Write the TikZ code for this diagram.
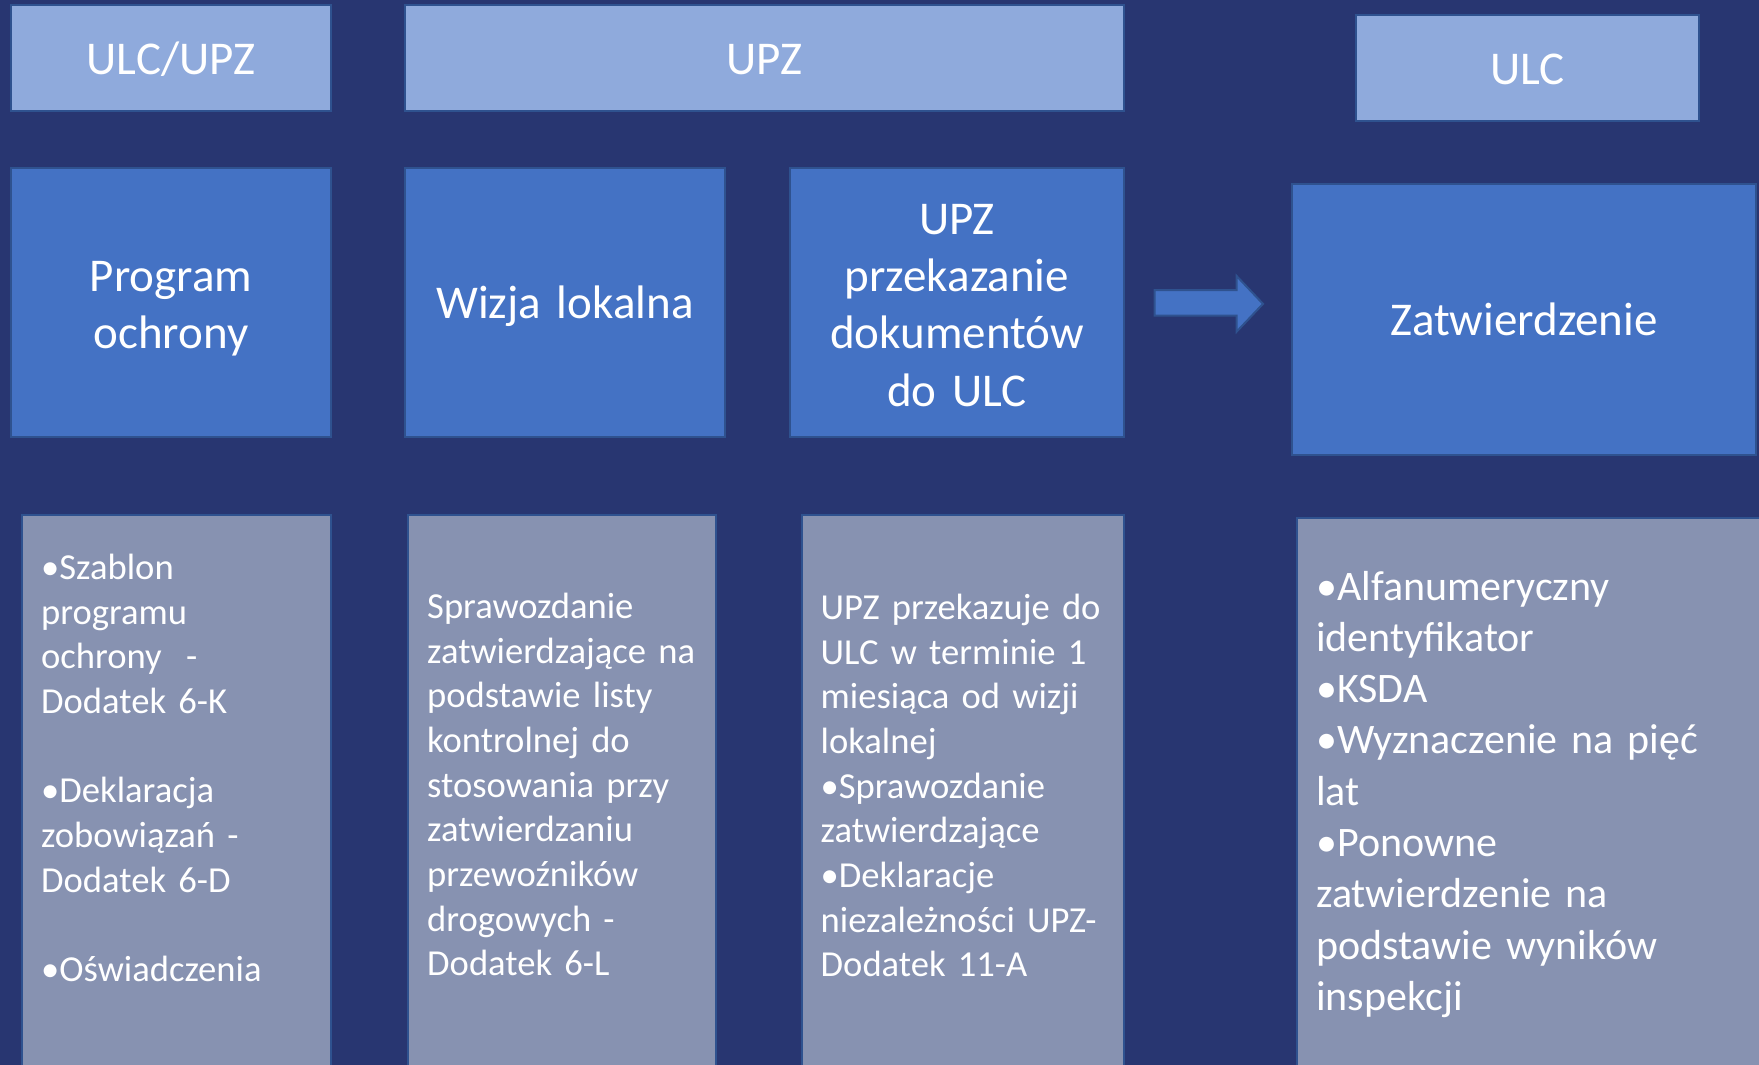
\documentclass[tikz,border=0pt]{standalone}
\usepackage{fontspec}
\setmainfont{Carlito}
\definecolor{bg}{HTML}{283671}
\definecolor{lightbox}{HTML}{8FAADC}
\definecolor{midbox}{HTML}{4472C4}
\definecolor{lowbox}{HTML}{8792B1}
\definecolor{edge}{HTML}{2F528F}
\tikzset{
  box/.style={draw=edge, line width=2.5pt, anchor=north west, inner sep=0pt, outer sep=0pt},
  hdrbox/.style={box, fill=lightbox, minimum height=106pt},
  stepbox/.style={box, fill=midbox},
  infobox/.style={box, fill=lowbox},
  bigtxt/.style={text=white, font=\fontsize{47}{57.4}\selectfont, anchor=base, align=center, text width=440pt, inner sep=0pt},
  smalltxt/.style={text=white, font=\fontsize{36.6}{44.7}\selectfont, anchor=base west, align=left, text width=420pt, inner sep=0pt},
  midtxt/.style={text=white, font=\fontsize{42}{51.3}\selectfont, anchor=base west, align=left, text width=440pt, inner sep=0pt},
}
\begin{document}
\begin{tikzpicture}[x=1pt,y=-1pt]
\useasboundingbox (0,0) rectangle (1759,1065);
\clip (0,0) rectangle (1759,1065);
\fill[bg] (0,0) rectangle (1759,1065);

% header row
\node[hdrbox, minimum width=320pt] (h1) at (11,5) {};
\node[hdrbox, minimum width=719pt] (h2) at (405,5) {};
\node[hdrbox, minimum width=343pt] (h3) at (1356,15) {};
\node[bigtxt] (h1t) at (171,74.3) {ULC/UPZ};
\node[bigtxt] (h2t) at (764.5,74.3) {UPZ};
\node[bigtxt] (h3t) at (1527.5,84.4) {ULC};

% step row
\node[stepbox, minimum width=320pt, minimum height=269pt] (s1) at (11,168) {};
\node[stepbox, minimum width=320pt, minimum height=269pt] (s2) at (405,168) {};
\node[stepbox, minimum width=334pt, minimum height=269pt] (s3) at (790,168) {};
\node[stepbox, minimum width=464pt, minimum height=271pt] (s4) at (1292,184) {};
\node[bigtxt] (s1t) at (171,291) {Program\\ochrony};
\node[bigtxt] (s2t) at (565,318.5) {Wizja lokalna};
\node[bigtxt] (s3t) at (957,234) {UPZ\\przekazanie\\dokumentów\\do ULC};
\node[bigtxt] (s4t) at (1524,335.5) {Zatwierdzenie};

% block arrow
\coordinate (a0) at (1154.6,290);
\coordinate (a1) at (1236.6,290);
\coordinate (a2) at (1236.6,276);
\coordinate (a3) at (1263,303.85);
\coordinate (a4) at (1236.6,331.7);
\coordinate (a5) at (1236.6,315.7);
\coordinate (a6) at (1154.6,315.7);
\draw[fill=midbox, draw=edge, line width=2pt, line join=miter] (a0) -- (a1) -- (a2) -- (a3) -- (a4) -- (a5) -- (a6) -- cycle;

% info row
\node[infobox, minimum width=309pt, minimum height=570pt] (i1) at (22,515) {};
\node[infobox, minimum width=308pt, minimum height=570pt] (i2) at (408,515) {};
\node[infobox, minimum width=322pt, minimum height=570pt] (i3) at (802,515) {};
\node[infobox, minimum width=470pt, minimum height=570pt] (i4) at (1297,518) {};

\node[smalltxt] (i1t) at (41,579.3) {•Szablon\\programu\\ochrony\ \ -\\Dodatek 6-K\\[\baselineskip]•Deklaracja\\zobowiązań -\\Dodatek 6-D\\[\baselineskip]•Oświadczenia};
\node[smalltxt] (i2t) at (427,618.3) {Sprawozdanie\\zatwierdzające na\\podstawie listy\\kontrolnej do\\stosowania przy\\zatwierdzaniu\\przewoźników\\drogowych -\\Dodatek 6-L};
\node[smalltxt] (i3t) at (820.5,619.3) {UPZ przekazuje do\\ULC w terminie 1\\miesiąca od wizji\\lokalnej\\•Sprawozdanie\\zatwierdzające\\•Deklaracje\\niezależności UPZ-\\Dodatek 11-A};
\node[midtxt] (i4t) at (1316,600) {•Alfanumeryczny\\identyfikator\\•KSDA\\•Wyznaczenie na pięć\\lat\\•Ponowne\\zatwierdzenie na\\podstawie wyników\\inspekcji};
\end{tikzpicture}
\end{document}
